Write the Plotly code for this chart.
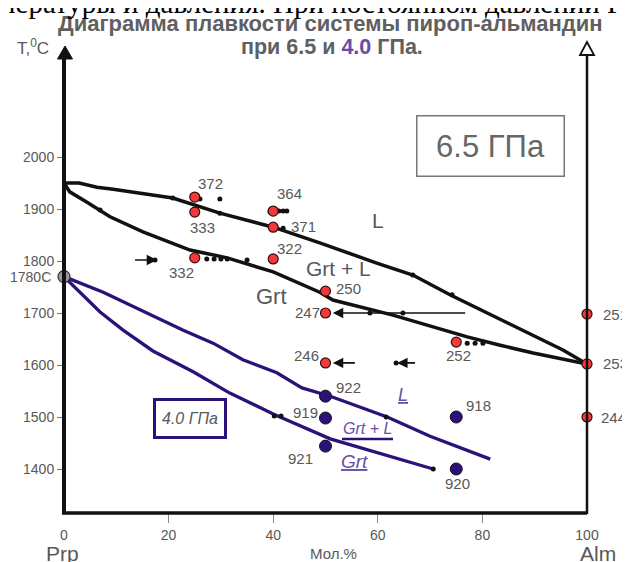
import plotly.graph_objects as go

# ---------------- data (X = mol.% Alm, T in °C) ----------------
# 6.5 GPa liquidus and solidus
liq65_x = [0, 2.9, 6.3, 9.4, 20.8, 29.8, 40.0, 48.9, 59.8, 66.7, 73.8, 80.9, 88.5, 95.4, 100]
liq65_t = [1950, 1950, 1942, 1938, 1921, 1892, 1865, 1835, 1796, 1773, 1735, 1700, 1662, 1629, 1602]
sol65_x = [0, 1.1, 4.4, 6.9, 8.8, 15.1, 24.1, 31.2, 40.0, 48.9, 51.4, 62.9, 70.6, 77.1, 83.4, 89.7, 100]
sol65_t = [1950, 1933, 1913, 1898, 1885, 1856, 1821, 1806, 1779, 1740, 1725, 1696, 1673, 1654, 1638, 1623, 1602]

# 4.0 GPa liquidus and solidus
liq40_x = [0, 7.5, 22.8, 28.5, 34.2, 40.7, 45.5, 50.9, 61.8, 70.0, 81.5]
liq40_t = [1770, 1740, 1667, 1642, 1610, 1585, 1556, 1540, 1500, 1463, 1419]
sol40_x = [0, 6.9, 11.3, 17.0, 24.7, 31.7, 40.2, 45.1, 50.9, 70.6]
sol40_t = [1770, 1702, 1667, 1627, 1587, 1546, 1505, 1484, 1458, 1400]

# 6.5 GPa experiments (red)
red_ids = ["372", "333", "364", "371", "332", "322", "250", "247", "246", "252", "251", "253", "244"]
red_x = [25, 25, 40, 40, 25, 40, 50, 50, 50, 75, 100, 100, 100]
red_t = [1923, 1894, 1896, 1865, 1806, 1804, 1742, 1700, 1604, 1644, 1698, 1602, 1500]

# 4.0 GPa experiments (blue)
blue_ids = ["922", "919", "921", "918", "920"]
blue_x = [50, 50, 50, 75, 75]
blue_t = [1540, 1498, 1444, 1500, 1400]

# Prp melting point at 4.0 GPa
prp_x = [0]
prp_t = [1770]
prp_label = "1780C"

# small black dots
dot_x = [20.8, 26.0, 29.8, 29.8, 6.9, 39.4, 41.1, 41.9, 42.6, 41.9, 17.4, 27.3, 28.7, 30.0, 31.2,
         35.0, 58.5, 64.8, 63.5, 77.1, 78.6, 80.1, 66.7, 74.2, 61.6, 40.2, 41.5, 70.6]
dot_t = [1921, 1919, 1919, 1892, 1898, 1894, 1896, 1896, 1896, 1863, 1802, 1804, 1804, 1804, 1804,
         1802, 1700, 1700, 1604, 1642, 1642, 1642, 1773, 1735, 1500, 1502, 1502, 1400]

# arrows (tail -> head)
arr_tail_x = [13.2, 77.1, 56.0, 67.5]
arr_head_x = [17.8, 51.4, 51.4, 63.7]
arr_t = [1802, 1700, 1604, 1604]

x_ticks = [0, 20, 40, 60, 80, 100]
y_ticks = [1400, 1500, 1600, 1700, 1800, 1900, 2000]

# ---------------- styling / layout helpers ----------------
W, H = 630, 562
OFF = 8                       # page body margin offset
PL, PT, PR, PB = 64, 40, 587, 513   # target plot box in picture pixels
PW, PH = PR - PL, PB - PT
L, T = PL - OFF, PT - OFF
R, B = W - (PR - OFF), H - (PB - OFF)
Y0 = 1900 - (PB - 209) / 0.52
Y1 = 1900 + (209 - PT) / 0.52

def pxp(px):
    return (px - PL) / PW

def pyp(py):
    return (PB - py) / PH

GRAY = "#585858"
PURP = "#2c1278"
LPURP = "#6a4ea6"
FONT = "Liberation Sans, Arial, sans-serif"

red_off = [(16, 14), (8, -15), (16, 18), (30, 1), (-13, -15), (16, 10), (23, 3), (-18, 1),
           (-19, 7), (2, -13), (28, 0), (28, 0), (26, 0)]
blue_off = [(23, 9), (-20, 6), (-25, -12), (22, 12), (1, -14)]

fig = go.Figure()
line_specs = [(liq65_x, liq65_t, "#111111", 3.5), (sol65_x, sol65_t, "#111111", 3.5),
              (liq40_x, liq40_t, PURP, 3.3), (sol40_x, sol40_t, PURP, 3.3)]
for xs, ts, c, w in line_specs:
    fig.add_trace(go.Scatter(x=xs, y=ts, mode="lines", line=dict(color=c, width=w),
                             hoverinfo="skip", showlegend=False))

fig.add_trace(go.Scatter(x=dot_x, y=dot_t, mode="markers", marker=dict(color="#111", size=5),
                         showlegend=False, cliponaxis=False))
fig.add_trace(go.Scatter(x=red_x, y=red_t, mode="markers",
                         marker=dict(color="#f23a3a", size=10, line=dict(color="#3a0a0a", width=1.2)),
                         showlegend=False, cliponaxis=False))
fig.add_trace(go.Scatter(x=blue_x, y=blue_t, mode="markers",
                         marker=dict(color=PURP, size=12, line=dict(color="#111", width=1)),
                         showlegend=False, cliponaxis=False))
fig.add_trace(go.Scatter(x=prp_x, y=prp_t, mode="markers",
                         marker=dict(color="#9a9a9a", size=12, line=dict(color="#333", width=1.2)),
                         showlegend=False, cliponaxis=False))

ann = []
for lab, x, t, (dx, dy) in zip(red_ids, red_x, red_t, red_off):
    ann.append(dict(x=x, y=t, text=lab, showarrow=False, xshift=dx, yshift=dy,
                    font=dict(size=15, color=GRAY, family=FONT)))
for lab, x, t, (dx, dy) in zip(blue_ids, blue_x, blue_t, blue_off):
    ann.append(dict(x=x, y=t, text=lab, showarrow=False, xshift=dx, yshift=dy,
                    font=dict(size=15, color=GRAY, family=FONT)))
ann.append(dict(xref="paper", x=pxp(30), y=prp_t[0], text=prp_label, showarrow=False,
                xanchor="center", yanchor="middle",
                font=dict(size=14, color=GRAY, family=FONT)))

for tx, hx, t in zip(arr_tail_x, arr_head_x, arr_t):
    ann.append(dict(x=hx, y=t, ax=tx, ay=t, axref="x", ayref="y", text=" ", showarrow=True,
                    arrowhead=2, arrowsize=1.3, arrowwidth=1.6, arrowcolor="#111",
                    font=dict(size=2)))

# region labels
ann += [
    dict(x=60.0, y=1877, text="L", showarrow=False, font=dict(size=21, color=GRAY, family=FONT)),
    dict(x=52.4, y=1785, text="Grt + L", showarrow=False, font=dict(size=21, color=GRAY, family=FONT)),
    dict(x=39.6, y=1731, text="Grt", showarrow=False, font=dict(size=22, color=GRAY, family=FONT)),
    dict(x=64.8, y=1542, text="<i><u>L</u></i>", showarrow=False, font=dict(size=18, color=LPURP, family=FONT)),
    dict(x=58.1, y=1477, text="<i>Grt + L</i>", showarrow=False, font=dict(size=16, color=LPURP, family=FONT)),
    dict(x=55.6, y=1415, text="<i><u>Grt</u></i>", showarrow=False, font=dict(size=19, color=LPURP, family=FONT)),
]
# pressure boxes
ann += [
    dict(x=81.5, y=2021, text="6.5 ГПа", showarrow=False, width=146, height=59, borderpad=0,
         bordercolor="#777", borderwidth=1.5, font=dict(size=31, color="#666", family=FONT)),
    dict(x=24.0, y=1498, text="<i>4.0 ГПа</i>", showarrow=False, width=68, height=35, borderpad=0,
         bordercolor=PURP, borderwidth=3, font=dict(size=16, color=GRAY, family=FONT)),
]
# titles and axis captions (paper coordinates)
paper_txt = [
    (330, 23, "<b>Диаграмма плавкости системы пироп-альмандин</b>", 22, "#606060", FONT, "center"),
    (332, 47, "<b>при 6.5 и <span style='color:#6b4ba6'>4.0</span> ГПа.</b>", 21.5, "#606060", FONT, "center"),
    (-2, 3, "пературы и давления. При постоянном давлении Р", 29, "#000",
     "Liberation Serif, Times New Roman, serif", "left"),
    (33, 47, "T,<sup>0</sup>C", 17, GRAY, FONT, "center"),
    (62, 553, "Prp", 21, GRAY, FONT, "center"),
    (598, 553, "Alm", 21, GRAY, FONT, "center"),
    (333, 553, "Мол.%", 15, GRAY, FONT, "center"),
]
for px, py, txt, fs, col, fam, xa in paper_txt:
    ann.append(dict(xref="paper", yref="paper", x=pxp(px), y=pyp(py), text=txt, showarrow=False,
                    xanchor=xa, yanchor="middle", font=dict(size=fs, color=col, family=fam)))

shapes = [
    # left axis + filled arrow
    dict(type="line", xref="paper", yref="paper", x0=0, x1=0, y0=pyp(514), y1=pyp(57),
         line=dict(color="#111", width=4)),
    dict(type="path", xref="paper", yref="paper",
         path=f"M {pxp(65)},{pyp(46)} L {pxp(57.5)},{pyp(59)} L {pxp(72.5)},{pyp(59)} Z",
         fillcolor="#111", line=dict(color="#111", width=1)),
    # bottom axis
    dict(type="line", xref="paper", yref="paper", x0=pxp(62), x1=1, y0=0, y1=0,
         line=dict(color="#111", width=3.5)),
    # right axis + open arrow
    dict(type="line", xref="paper", yref="paper", x0=1, x1=1, y0=pyp(514), y1=pyp(55),
         line=dict(color="#111", width=2.5)),
    dict(type="path", xref="paper", yref="paper",
         path=f"M {pxp(587)},{pyp(42)} L {pxp(580)},{pyp(55)} L {pxp(594)},{pyp(55)} Z",
         fillcolor="white", line=dict(color="#111", width=1.8)),
    # dark underline of the 4.0 GPa "Grt + L" label
    dict(type="line", xref="paper", yref="paper", x0=pxp(342), x1=pxp(393), y0=pyp(439), y1=pyp(439),
         line=dict(color=PURP, width=2.5)),
]

fig.update_layout(
    width=W, height=H, margin=dict(l=L, r=R, t=T, b=B),
    paper_bgcolor="white", plot_bgcolor="white",
    annotations=ann, shapes=shapes, showlegend=False,
    xaxis=dict(range=[0, 100], showgrid=False, zeroline=False, showline=False,
               tickvals=x_ticks, ticktext=[str(v) for v in x_ticks],
               ticks="outside", ticklen=9, tickcolor="rgba(0,0,0,0)", ticklabelstandoff=0,
               tickfont=dict(size=14, color=GRAY, family=FONT),
               minor=dict(tickvals=[20, 40, 60, 80], ticks="outside", ticklen=9,
                          tickcolor="#888", tickwidth=1.2)),
    yaxis=dict(range=[Y0, Y1], showgrid=False, zeroline=False, showline=False,
               tickvals=y_ticks, ticks="outside", ticklen=6, tickcolor="#777", tickwidth=1.2,
               tickfont=dict(size=14, color=GRAY, family=FONT)),
)

fig.write_html("out.html")
